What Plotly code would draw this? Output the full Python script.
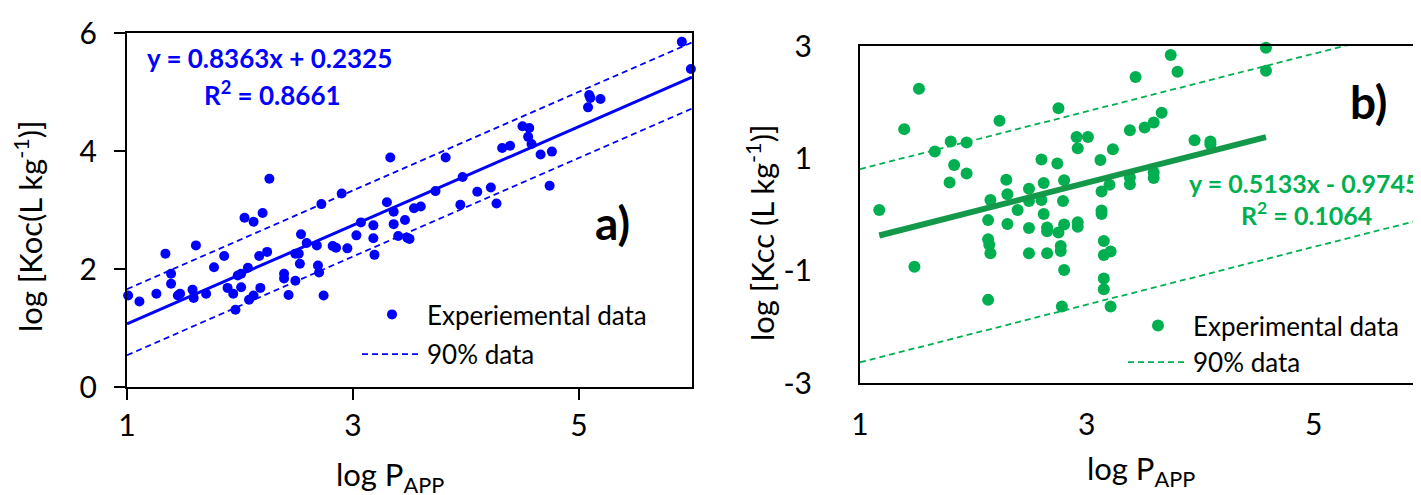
import plotly.graph_objects as go

# ---------------- data: panel a ----------------
a_x = [1.01, 1.11, 1.26, 1.34, 1.39, 1.39, 1.45, 1.47, 1.58, 1.59, 1.61, 1.70, 1.77, 1.86, 1.89,
       1.94, 1.96, 1.98, 2.01, 2.01, 2.04, 2.07, 2.08, 2.12, 2.12, 2.17, 2.18, 2.20, 2.24, 2.26,
       2.39, 2.39, 2.43, 2.49, 2.49, 2.52, 2.53, 2.54, 2.59, 2.68, 2.69, 2.70, 2.72, 2.74, 2.82,
       2.85, 2.90, 2.95, 3.03, 3.07, 3.18, 3.18, 3.19, 3.30, 3.33, 3.36, 3.36, 3.40, 3.46, 3.48,
       3.50, 3.54, 3.60, 3.73, 3.82, 3.95, 3.97, 4.10, 4.22, 4.27, 4.32, 4.39, 4.50, 4.56, 4.55,
       4.58, 4.66, 4.74, 4.76, 5.08, 5.09, 5.10, 5.19, 5.91, 5.99]
a_y = [1.55, 1.45, 1.58, 2.26, 1.92, 1.75, 1.55, 1.58, 1.65, 1.51, 2.40, 1.58, 2.03, 2.22, 1.68,
       1.58, 1.31, 1.89, 1.92, 1.69, 2.87, 2.02, 1.48, 2.80, 1.55, 2.22, 1.68, 2.95, 2.29, 3.53,
       1.92, 1.84, 1.56, 1.80, 2.26, 2.26, 2.09, 2.59, 2.44, 2.40, 2.06, 1.94, 3.10, 1.55, 2.39,
       2.36, 3.28, 2.35, 2.57, 2.79, 2.74, 2.52, 2.24, 3.13, 3.89, 2.97, 2.76, 2.56, 2.83, 2.53,
       2.51, 3.03, 3.06, 3.32, 3.89, 3.09, 3.56, 3.31, 3.38, 3.11, 4.05, 4.09, 4.42, 4.39, 4.24,
       4.12, 3.94, 3.41, 3.99, 4.74, 4.95, 4.90, 4.88, 5.85, 5.39]
a_slope, a_icpt = 0.8363, 0.2325
a_r2 = 0.8661
a_band_up, a_band_lo = 0.59, -0.53

# ---------------- data: panel b ----------------
b_x = [1.17, 1.39, 1.48, 1.52, 1.66, 1.79, 1.80, 1.83, 1.94, 1.94, 2.13, 2.13, 2.14, 2.15, 2.13,
       2.15, 2.23, 2.29, 2.30, 2.30, 2.39, 2.49, 2.49, 2.49, 2.49, 2.60, 2.62, 2.60, 2.62, 2.65,
       2.65, 2.65, 2.74, 2.75, 2.75, 2.77, 2.77, 2.78, 2.80, 2.79, 2.80, 2.80, 2.91, 2.92, 2.92,
       2.92, 3.01, 3.12, 3.13, 3.13, 3.13, 3.15, 3.15, 3.15, 3.15, 3.21, 3.21, 3.20, 3.23, 3.38,
       3.38, 3.38, 3.43, 3.51, 3.59, 3.59, 3.59, 3.66, 3.74, 3.80, 3.95, 4.09, 4.09, 4.58, 4.58]
b_y = [0.08, 1.52, -0.93, 2.24, 1.12, 0.57, 1.30, 0.88, 1.28, 0.73, -0.10, -0.44, -0.54, -0.69, -1.52,
       0.26, 1.67, 0.62, 0.36, -0.17, 0.08, 0.46, 0.24, -0.24, -0.69, 0.98, 0.56, 0.26, 0.01, -0.23,
       -0.30, -0.69, 0.91, 1.89, -0.32, -0.56, -0.65, -1.64, 0.61, 0.24, -0.18, -0.99, 1.38, 1.18, -0.14,
       -0.22, 1.38, 0.97, 0.41, 0.07, 0.01, -0.47, -0.72, -1.14, -1.33, -0.66, -1.64, 0.53, 1.16, 1.50,
       0.66, 0.54, 2.45, 1.55, 1.64, 0.75, 0.65, 1.81, 2.84, 2.54, 1.32, 1.30, 1.25, 2.97, 2.56]
b_slope, b_icpt = 0.5133, -0.9745
b_r2 = 0.1064
b_band_up, b_band_lo = 1.27, -2.17

x_range = [1, 6]
x_ticks = [1, 3, 5]
a_yrange = [0, 6]
a_yticks = [0, 2, 4, 6]
b_yrange = [-3, 3]
b_yticks = [-3, -1, 1, 3]
b_yticklabels = ["-3", "-1", "1", "3"]

a_legend_names = ["Experiemental data", "90% data"]
b_legend_names = ["Experimental data", "90% data"]

BLUE = "#0000FF"
GREEN = "#00B050"
DKGREEN = "#14994A"
FONT = "Lato"
DASH = "6px,4px"

fig = go.Figure()

# panel a
ax_line = [min(x_range), max(x_range)]
fig.add_trace(go.Scatter(x=a_x, y=a_y, mode="markers", name=a_legend_names[0],
                         marker=dict(color=BLUE, size=10), cliponaxis=False,
                         xaxis="x", yaxis="y", legend="legend", legendgroup="a1"))
fig.add_trace(go.Scatter(x=ax_line, y=[a_slope * v + a_icpt for v in ax_line], mode="lines",
                         line=dict(color=BLUE, width=3), showlegend=False, xaxis="x", yaxis="y"))
fig.add_trace(go.Scatter(x=ax_line, y=[a_slope * v + a_icpt + a_band_up for v in ax_line], mode="lines",
                         name=a_legend_names[1], line=dict(color=BLUE, width=1.8, dash=DASH),
                         xaxis="x", yaxis="y", legend="legend", legendgroup="a2"))
fig.add_trace(go.Scatter(x=ax_line, y=[a_slope * v + a_icpt + a_band_lo for v in ax_line], mode="lines",
                         line=dict(color=BLUE, width=1.8, dash=DASH), showlegend=False,
                         xaxis="x", yaxis="y"))

# panel b
fig.add_trace(go.Scatter(x=b_x, y=b_y, mode="markers", name=b_legend_names[0],
                         marker=dict(color=GREEN, size=12), cliponaxis=False,
                         xaxis="x2", yaxis="y2", legend="legend2", legendgroup="b1"))
bx_line = [min(b_x), max(b_x)]
fig.add_trace(go.Scatter(x=bx_line, y=[b_slope * v + b_icpt for v in bx_line], mode="lines",
                         line=dict(color=DKGREEN, width=6), showlegend=False, xaxis="x2", yaxis="y2"))
fig.add_trace(go.Scatter(x=ax_line, y=[b_slope * v + b_icpt + b_band_up for v in ax_line], mode="lines",
                         name=b_legend_names[1], line=dict(color=GREEN, width=1.8, dash=DASH),
                         xaxis="x2", yaxis="y2", legend="legend2", legendgroup="b2"))
fig.add_trace(go.Scatter(x=ax_line, y=[b_slope * v + b_icpt + b_band_lo for v in ax_line], mode="lines",
                         line=dict(color=GREEN, width=1.8, dash=DASH), showlegend=False,
                         xaxis="x2", yaxis="y2"))

W, H = 1421, 495
def fx(px):
    return px / W
def fy(py):
    return 1 - py / H

tickfont = dict(family=FONT, size=30, color="black")
TITLE_SIZE = 31

common_axis = dict(showgrid=False, zeroline=False, showline=True, linecolor="black", linewidth=2,
                   mirror=True, automargin=False, tickfont=tickfont)

fig.update_layout(
    width=W, height=H,
    margin=dict(l=0, r=0, t=0, b=0),
    paper_bgcolor="white", plot_bgcolor="white",
    font=dict(family=FONT, color="black"),
    showlegend=True,
    xaxis=dict(domain=[fx(119), fx(684)], range=x_range, tickvals=x_ticks, ticks="outside",
               ticklen=11, tickwidth=2, tickcolor="black", anchor="y", **common_axis),
    # visible axis with black ticks, no labels
    yaxis=dict(domain=[fy(379), fy(25)], range=a_yrange, tickvals=a_yticks, ticks="outside",
               ticklen=11, tickwidth=2, tickcolor="black", anchor="x", showticklabels=False,
               **common_axis),
    # label-only axis placed freely to the left of the plot
    yaxis3=dict(overlaying="y", anchor="free", position=fx(89), side="left", range=a_yrange,
                tickvals=a_yticks, ticks="", showline=False,
                showgrid=False, zeroline=False, automargin=False, tickfont=tickfont),
    xaxis2=dict(domain=[fx(852), fx(1419)], range=x_range, tickvals=x_ticks, ticks="outside",
                ticklen=0, ticklabelstandoff=14, anchor="y2", **common_axis),
    yaxis2=dict(domain=[fy(375), fy(38)], range=b_yrange, tickvals=b_yticks, ticktext=b_yticklabels,
                ticks="outside", ticklen=0, ticklabelstandoff=40, anchor="x2", **common_axis),
    legend=dict(x=fx(349), y=fy(283), xanchor="left", yanchor="top", bgcolor="rgba(0,0,0,0)",
                font=dict(family=FONT, size=26, color="black"), traceorder="grouped",
                tracegroupgap=3, itemwidth=60),
    legend2=dict(x=fx(1115), y=fy(294), xanchor="left", yanchor="top", bgcolor="rgba(0,0,0,0)",
                 font=dict(family=FONT, size=26, color="black"), traceorder="grouped",
                 tracegroupgap=0, itemwidth=60),
)

# invisible trace so the label axis is drawn
fig.add_trace(go.Scatter(x=[x_range[0]], y=[a_yrange[0]], mode="markers", marker=dict(opacity=0),
                         showlegend=False, hoverinfo="skip", xaxis="x", yaxis="y3"))

annots = [
    # axis titles
    dict(x=fx(382), y=fy(468), text="log P<sub>APP</sub>",
         font=dict(family=FONT, size=TITLE_SIZE, color="black")),
    dict(x=fx(1133), y=fy(462), text="log P<sub>APP</sub>",
         font=dict(family=FONT, size=TITLE_SIZE, color="black")),
    dict(x=fx(21), y=fy(218), text="log [Koc(L kg<sup>-1</sup>)]", textangle=-90,
         font=dict(family=FONT, size=TITLE_SIZE, color="black")),
    dict(x=fx(752), y=fy(225), text="log [Kcc (L kg<sup>-1</sup>)]", textangle=-90,
         font=dict(family=FONT, size=TITLE_SIZE, color="black")),
    # equations and panel labels
    dict(x=fx(261), y=fy(50), text=f"y = {a_slope:.4f}x + {a_icpt:.4f}",
         font=dict(family=FONT, size=26, color=BLUE, weight="bold")),
    dict(x=fx(264), y=fy(85), text=f"R<sup>2</sup> = {a_r2:.4f}",
         font=dict(family=FONT, size=26, color=BLUE, weight="bold")),
    dict(x=fx(604), y=fy(214), text="a)", font=dict(family=FONT, size=46, color="black", weight="bold")),
    dict(x=fx(1296), y=fy(175), text=f"y = {b_slope:.4f}x - {abs(b_icpt):.4f}",
         font=dict(family=FONT, size=25, color=GREEN, weight="bold")),
    dict(x=fx(1298), y=fy(205), text=f"R<sup>2</sup> = {b_r2:.4f}",
         font=dict(family=FONT, size=25, color=GREEN, weight="bold")),
    dict(x=fx(1360), y=fy(93), text="b)", font=dict(family=FONT, size=46, color="black", weight="bold")),
]
for a in annots:
    a.update(xref="paper", yref="paper", showarrow=False, xanchor="center", yanchor="middle")
fig.update_layout(annotations=annots)

fig.write_html("out.html")
